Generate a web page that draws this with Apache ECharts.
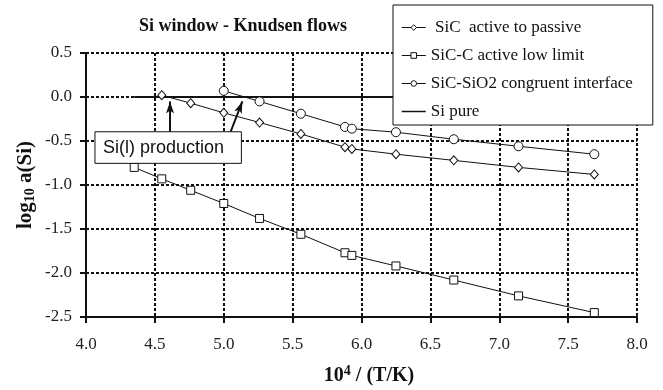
<!DOCTYPE html>
<html>
<head>
<meta charset="utf-8">
<script src="https://cdn.jsdelivr.net/npm/echarts@6/dist/echarts.min.js"></script>
<style>
  html, body { margin: 0; padding: 0; background: #fff; }
  #chart { width: 663px; height: 390px; }
</style>
</head>
<body>
<div id="chart"></div>
<script>
// 10^4/T values and log10 a(Si) for each curve
const xActivePassive = [4.55, 4.76, 5.00, 5.26, 5.56, 5.88, 5.93, 6.25, 6.67, 7.14, 7.69];
const yActivePassive = [0.02, -0.07, -0.18, -0.29, -0.42, -0.57, -0.59, -0.65, -0.72, -0.80, -0.88];

const xLowLimit = [4.35, 4.55, 4.76, 5.00, 5.26, 5.56, 5.88, 5.93, 6.25, 6.67, 7.14, 7.69];
const yLowLimit = [-0.80, -0.93, -1.06, -1.21, -1.38, -1.56, -1.77, -1.80, -1.92, -2.08, -2.26, -2.45];

const xCongruent = [5.00, 5.26, 5.56, 5.88, 5.93, 6.25, 6.67, 7.14, 7.69];
const yCongruent = [0.07, -0.05, -0.19, -0.34, -0.36, -0.40, -0.48, -0.56, -0.65];

const xSiPure = [4.35, 8.0];
const ySiPure = [0, 0];

const seriesNames = [
  ' SiC  active to passive',
  'SiC-C active low limit',
  'SiC-SiO2 congruent interface',
  'Si pure'
];

// axis ranges and ticks
const xRange = [4.0, 8.0];
const yRange = [-2.5, 0.5];
const tickStep = 0.5;

// "Si(l) production" note: box and arrows in data coordinates
const noteText = 'Si(l) production';
const noteBox = { x0: 4.065, x1: 5.128, yTop: -0.395, yBottom: -0.754 };
const noteArrows = [
  [[4.61, -0.395], [4.61, -0.05]],
  [[5.05, -0.395], [5.135, -0.05]]
];

const zip = (xs, ys) => xs.map((x, i) => [x, ys[i]]);

const serif = 'Liberation Serif';
const ink = '#111';

const chart = echarts.init(document.getElementById('chart'), null, { renderer: 'canvas' });

const markerStyle = { color: '#fff', borderColor: ink, borderWidth: 1 };
const lineStyle = { color: ink, width: 1 };

const option = {
  animation: false,
  backgroundColor: '#fff',
  title: {
    text: 'Si window - Knudsen flows',
    left: 238, top: 12,
    textAlign: 'center',
    textStyle: { fontFamily: serif, fontWeight: 'bold', fontSize: 18, color: ink }
  },
  grid: { left: 86, right: 26, top: 53, bottom: 73, containLabel: false },
  legend: {
    orient: 'vertical',
    left: 393, top: 5,
    padding: [14, 20, 5, 8],
    itemGap: 11,
    itemWidth: 24,
    itemHeight: 7,
    backgroundColor: '#fff',
    borderColor: ink,
    borderWidth: 1,
    borderRadius: 0,
    lineStyle: { width: 1 },
    itemStyle: { borderWidth: 1 },
    textStyle: { fontFamily: serif, fontSize: 17, color: ink },
    data: [
      { name: seriesNames[0] },
      { name: seriesNames[1] },
      { name: seriesNames[2] },
      { name: seriesNames[3], itemStyle: { opacity: 0 }, lineStyle: { width: 1.5 } }
    ]
  },
  xAxis: {
    type: 'value',
    min: xRange[0], max: xRange[1], interval: tickStep,
    axisLine: { onZero: false, lineStyle: { color: ink, width: 2 } },
    axisTick: { show: true, length: 6, lineStyle: { color: ink, width: 2 } },
    axisLabel: {
      margin: 19, fontFamily: serif, fontSize: 17, color: '#222',
      formatter: v => v.toFixed(1)
    },
    splitLine: { show: true, lineStyle: { color: ink, width: 2, type: [3, 2] } }
  },
  yAxis: {
    type: 'value',
    min: yRange[0], max: yRange[1], interval: tickStep,
    axisLine: { onZero: false, lineStyle: { color: ink, width: 2 } },
    axisTick: { show: true, length: 6, lineStyle: { color: ink, width: 2 } },
    axisLabel: {
      margin: 14, fontFamily: serif, fontSize: 17, color: '#222',
      formatter: v => v.toFixed(1)
    },
    splitLine: { show: true, lineStyle: { color: ink, width: 2, type: [3, 2] } }
  },
  series: [
    {
      name: seriesNames[0], type: 'line', data: zip(xActivePassive, yActivePassive),
      symbol: 'diamond', symbolSize: [8, 9], showAllSymbol: true,
      itemStyle: markerStyle, lineStyle: lineStyle, z: 3
    },
    {
      name: seriesNames[1], type: 'line', data: zip(xLowLimit, yLowLimit),
      symbol: 'rect', symbolSize: 8, showAllSymbol: true,
      itemStyle: markerStyle, lineStyle: lineStyle, z: 3
    },
    {
      name: seriesNames[2], type: 'line', data: zip(xCongruent, yCongruent),
      symbol: 'circle', symbolSize: 9, showAllSymbol: true,
      itemStyle: markerStyle, lineStyle: lineStyle, z: 3
    },
    {
      name: seriesNames[3], type: 'line', data: zip(xSiPure, ySiPure),
      symbol: 'none',
      itemStyle: { color: ink }, lineStyle: { color: ink, width: 2 }, z: 2,
      markLine: {
        silent: true,
        symbol: ['none', 'arrow'],
        symbolSize: [6, 12],
        label: { show: false },
        lineStyle: { color: ink, width: 2, type: 'solid' },
        data: noteArrows.map(([a, b]) => [{ coord: a }, { coord: b }])
      }
    }
  ]
};

chart.setOption(option);

// note box and axis titles, placed from the grid's coordinate system
const p0 = chart.convertToPixel({ gridIndex: 0 }, [noteBox.x0, noteBox.yTop]);
const p1 = chart.convertToPixel({ gridIndex: 0 }, [noteBox.x1, noteBox.yBottom]);
const gridRect = { left: 86, right: 637, top: 53, bottom: 317 };

chart.setOption({
  graphic: [
    {
      type: 'rect', z: 20,
      shape: { x: p0[0], y: p0[1], width: p1[0] - p0[0], height: p1[1] - p0[1] },
      style: { fill: '#fff', stroke: ink, lineWidth: 1 }
    },
    {
      type: 'text', z: 21,
      x: p0[0] + 8, y: (p0[1] + p1[1]) / 2,
      style: {
        text: noteText, fill: ink,
        font: '18px "Liberation Sans"',
        verticalAlign: 'middle', align: 'left'
      }
    },
    {
      type: 'text', z: 21,
      x: 26, y: (gridRect.top + gridRect.bottom) / 2,
      rotation: Math.PI / 2,
      style: {
        text: '{b|log}{s|10}{b| a(Si)}',
        align: 'center', verticalAlign: 'middle',
        rich: {
          b: { fontFamily: serif, fontWeight: 'bold', fontSize: 21, fill: ink },
          s: { fontFamily: serif, fontWeight: 'bold', fontSize: 14, fill: ink, padding: [9, 0, 0, 0] }
        }
      }
    },
    {
      type: 'text', z: 21,
      x: 369, y: 376,
      style: {
        text: '{b|10}{s|4}{b| / (T/K)}',
        align: 'center', verticalAlign: 'middle',
        rich: {
          b: { fontFamily: serif, fontWeight: 'bold', fontSize: 20, fill: ink },
          s: { fontFamily: serif, fontWeight: 'bold', fontSize: 14, fill: ink, padding: [0, 0, 10, 0] }
        }
      }
    }
  ]
});
</script>
</body>
</html>
